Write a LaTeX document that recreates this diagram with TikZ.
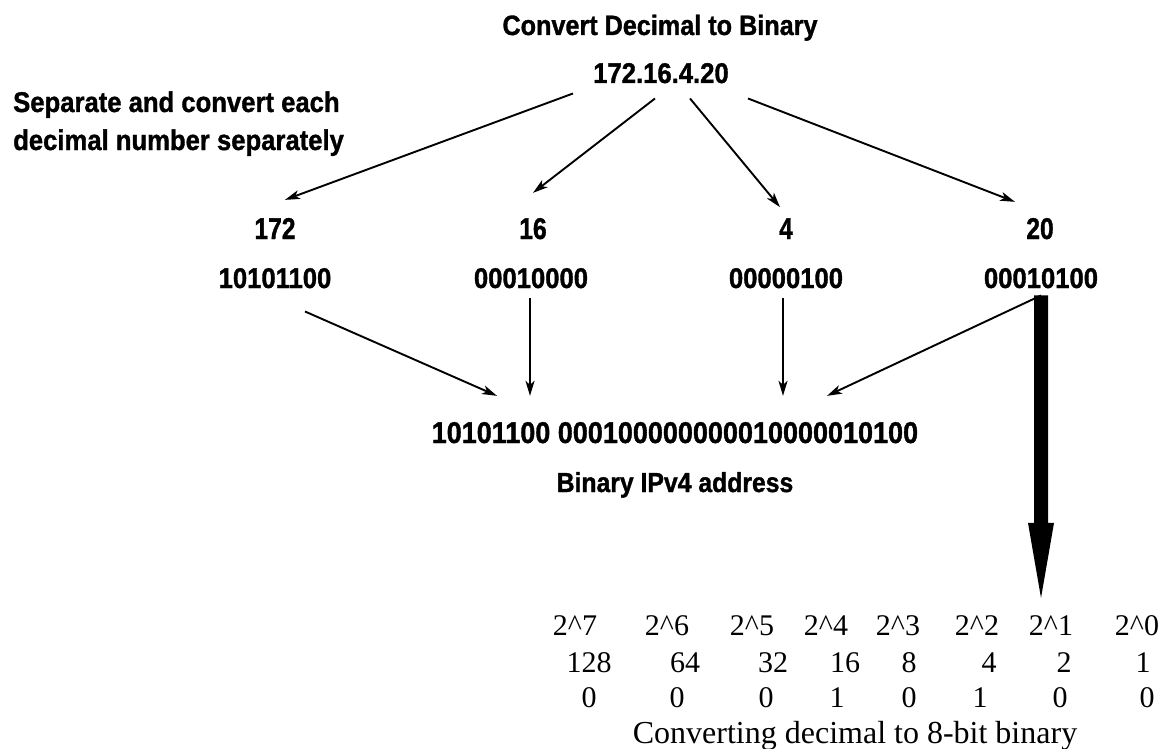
\documentclass[tikz,border=0pt]{standalone}
\usepackage{fontspec}
\setmainfont{Liberation Serif}
\newfontfamily\labelfont{Liberation Sans}[FakeStretch=0.9,FakeBold=1.2]
\newfontfamily\narrowfont{Liberation Sans}[FakeStretch=0.82,FakeBold=1.2]
\usetikzlibrary{arrows.meta,calc}
\begin{document}
\begin{tikzpicture}[x=1pt,y=-1pt,
  sans/.style={font=\labelfont\bfseries\fontsize{#1}{#1}\selectfont, inner sep=0pt, anchor=base},
  narrow/.style={font=\narrowfont\bfseries\fontsize{#1}{#1}\selectfont, inner sep=0pt, anchor=base},
  serif/.style={font=\fontsize{#1}{#1}\selectfont, inner sep=0pt, anchor=base},
  conn/.style={line width=1.9pt, -{Stealth[length=15pt,width=9pt,inset=4pt]}}]
\useasboundingbox (0,0) rectangle (1167,749);

% headings
\node[sans=28] (title) at (660,35) {Convert Decimal to Binary};
\node[sans=28.5] (ip) at (661,83) {172.16.4.20};
\node[sans=28.5,anchor=base west] (sep1) at (13,112) {Separate and convert each};
\node[sans=28.5,anchor=base west] (sep2) at (13,150) {decimal number separately};

% the four octets and their binary forms
\node[narrow=30] (d172) at (275,239) {172};
\node[narrow=30] (d16)  at (533,239) {16};
\node[narrow=30] (d4)   at (786,239) {4};
\node[narrow=30] (d20)  at (1040,239) {20};
\node[sans=28.5] (b172) at (275,288) {10101100};
\node[sans=28.5] (b16)  at (531,288) {00010000};
\node[sans=28.5] (b4)   at (786,288) {00000100};
\node[sans=28.5] (b20)  at (1041,288) {00010100};

% joined address
\node[sans=30] (ipbin) at (675,443) {10101100 000100000000010000010100};
\node[sans=27.5] (iplabel) at (675,492) {Binary IPv4 address};

% place values table
\foreach \n/\x in {7/575,6/667,5/752,4/826,3/898,2/977,1/1051,0/1137}
  \node[serif=30] (pw\n) at (\x,635) {2\textasciicircum\n};
\foreach \n/\x/\v in {7/589/128,6/685/64,5/773/32,4/845/16,3/909/8,2/989/4,1/1064/2,0/1143/1}
  \node[serif=30] (val\n) at (\x,672) {\v};
\foreach \n/\x/\v in {7/589/0,6/677/0,5/766/0,4/837/1,3/909/0,2/980/1,1/1060/0,0/1147/0}
  \node[serif=30] (bit\n) at (\x,707) {\v};
\node[serif=32] (caption) at (855,743) {Converting decimal to 8-bit binary};

% splitting arrows
\draw[conn] ([xshift=-88pt,yshift=-10pt]ip.south) -- ([xshift=10pt,yshift=18pt]d172.north);
\draw[conn] ([xshift=-6pt,yshift=-15pt]ip.south) -- ([yshift=25pt]d16.north);
\draw[conn] ([xshift=29pt,yshift=-15pt]ip.south) -- ([xshift=-6pt,yshift=11pt]d4.north);
\draw[conn] ([xshift=87pt,yshift=-15pt]ip.south) -- ([xshift=-25pt,yshift=16pt]d20.north);

% joining arrows
\draw[conn] ([xshift=30pt,yshift=-23pt]b172.south) -- ([xshift=-178pt,yshift=26pt]ipbin.north);
\draw[conn] ([xshift=-1pt,yshift=-10pt]b16.south) -- ([xshift=-145pt,yshift=26pt]ipbin.north);
\draw[conn] ([xshift=-3pt,yshift=-10pt]b4.south) -- ([xshift=108pt,yshift=26pt]ipbin.north);
\draw[conn] ([yshift=-7pt]b20.south) -- ([xshift=152pt,yshift=26pt]ipbin.north);

% heavy arrow down to the table
\fill let \p1=([yshift=-7pt]b20.south), \p2=([yshift=17pt]pw1.north) in
  (\x1-7pt,\y1) -- (\x1+7pt,\y1) -- (\x1+7pt,\y2+75pt) -- (\x1+13pt,\y2+75pt)
  -- (\x1,\y2) -- (\x1-13pt,\y2+75pt) -- (\x1-7pt,\y2+75pt) -- cycle;
\end{tikzpicture}
\end{document}
